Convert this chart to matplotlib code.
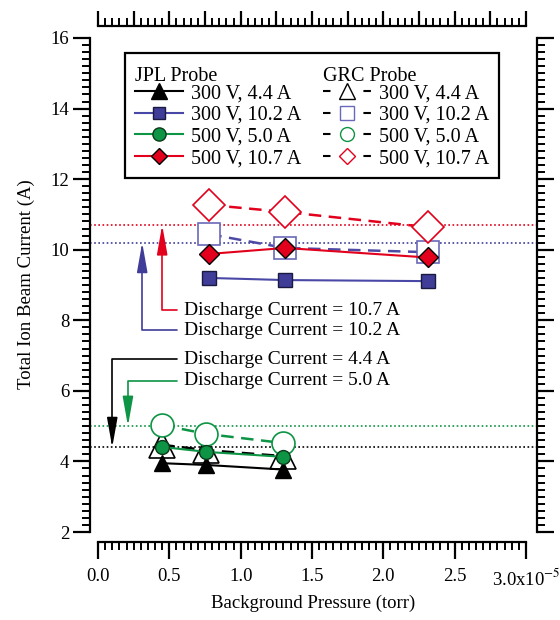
import numpy as np
import matplotlib
matplotlib.use("Agg")
import matplotlib.pyplot as plt
from matplotlib.lines import Line2D
from matplotlib.ticker import FixedLocator, FuncFormatter, NullFormatter

plt.rcParams["font.family"] = "Liberation Serif"
plt.rcParams["mathtext.fontset"] = "stix"

# Background pressure (torr)
p_low = [0.45e-5, 0.76e-5, 1.30e-5]
p_high = [0.78e-5, 1.31e-5, 2.31e-5]

# JPL probe, total ion beam current (A)
jpl_300_44 = [3.95, 3.90, 3.77]
jpl_300_102 = [9.20, 9.14, 9.11]
jpl_500_50 = [4.41, 4.27, 4.13]
jpl_500_107 = [9.88, 10.05, 9.78]

# GRC probe, total ion beam current (A)
grc_300_44 = [4.47, 4.32, 4.15]
grc_300_102 = [10.44, 10.05, 9.93]
grc_500_50 = [5.03, 4.78, 4.52]
grc_500_107 = [11.27, 11.07, 10.64]

case_labels = ["300 V, 4.4 A", "300 V, 10.2 A", "500 V, 5.0 A", "500 V, 10.7 A"]
discharge = [4.4, 10.2, 5.0, 10.7]

BLACK = "black"
BLUE = "#3f3d98"
GREEN = "#0d9444"
RED = "#e2001c"

fig = plt.figure(figsize=(5.6, 6.2), dpi=100)
ax = fig.add_axes([90 / 560, 1 - 542 / 620, 447 / 560, 516 / 620])
ax.set_xlim(-0.056e-5, 3.077e-5)
ax.set_ylim(1.717, 16.34)

# dotted reference lines at the discharge currents
for level, c in zip(discharge, [BLACK, BLUE, GREEN, RED]):
    ax.axhline(level, color=c, lw=1.2, ls=(0, (1, 1.5)), zorder=1)

dash = (0, (5, 3))
# GRC probe (open markers, dashed)
ax.plot(p_low, grc_300_44, color=BLACK, ls=dash, lw=1.8, marker="^", ms=19,
        mfc="white", mec=BLACK, mew=1.2, zorder=3)
ax.plot(p_high, grc_300_102, color="#4d4aa6", ls=dash, lw=1.8, marker="s", ms=16.5,
        mfc="white", mec="#6a68b8", mew=1.2, zorder=3)
ax.plot(p_low, grc_500_50, color=GREEN, ls=dash, lw=1.8, marker="o", ms=16.5,
        mfc="white", mec=GREEN, mew=1.2, zorder=3)
ax.plot(p_high, grc_500_107, color=RED, ls=dash, lw=1.8, marker="D", ms=16,
        mfc="white", mec=RED, mew=1.2, zorder=3)

# JPL probe (filled markers, solid)
ax.plot(p_low, jpl_300_44, color=BLACK, lw=1.5, marker="^", ms=12,
        mfc=BLACK, mec=BLACK, zorder=4)
ax.plot(p_high, jpl_300_102, color="#4a48a6", lw=1.5, marker="s", ms=10,
        mfc=BLUE, mec="#1a1a40", mew=1.0, zorder=4)
ax.plot(p_low, jpl_500_50, color=GREEN, lw=1.5, marker="o", ms=10,
        mfc=GREEN, mec="#0b3a1a", mew=1.0, zorder=4)
ax.plot(p_high, jpl_500_107, color=RED, lw=1.5, marker="D", ms=10,
        mfc=RED, mec="black", mew=1.0, zorder=4)

# arrows pointing to the discharge-current lines
arrow_x = [0.10e-5, 0.31e-5, 0.21e-5, 0.45e-5]
text_y = [6.90, 7.72, 6.28, 8.29]
for level, c, xa, yt in zip(discharge, [BLACK, BLUE, GREEN, RED], arrow_x, text_y):
    ax.annotate("Discharge Current = %.1f A" % level, xy=(xa, level),
                xytext=(0.60e-5, yt), ha="left", va="center", fontsize=14,
                arrowprops=dict(arrowstyle="-|>,head_length=1.8,head_width=0.32",
                                connectionstyle="angle,angleA=0,angleB=90,rad=0",
                                color=c, lw=1.2, shrinkA=3, shrinkB=0,
                                mutation_scale=10))

# Igor-style detached axes
for side in ["left", "right", "bottom", "top"]:
    ax.spines[side].set_linewidth(1.6)
ax.spines["top"].set_visible(False)
ax.spines["left"].set_bounds(2, 16)
ax.spines["right"].set_bounds(2, 16)
ax.spines["bottom"].set_bounds(0, 3e-5)

ax.yaxis.set_major_locator(FixedLocator(np.arange(2, 17, 2)))
ax.yaxis.set_minor_locator(FixedLocator(np.linspace(2, 16, 71)))
ax.xaxis.set_major_locator(FixedLocator(np.linspace(0, 3e-5, 7)))
ax.xaxis.set_minor_locator(FixedLocator(np.linspace(0, 3e-5, 61)))
ax.xaxis.set_major_formatter(FuncFormatter(
    lambda v, pos: "3.0x10$^{-5}$" if abs(v - 3e-5) < 1e-9 else "%.1f" % (v * 1e5)))
ax.tick_params(which="both", direction="out", right=True, labelright=False,
               labelsize=13.5)
ax.tick_params(which="major", length=12, width=1.6)
ax.tick_params(which="minor", length=5.5, width=1.4)
ax.tick_params(axis="x", pad=7)
ax.tick_params(axis="y", pad=3)

top = ax.twiny()
top.set_xlim(ax.get_xlim())
for side in ["left", "right", "bottom"]:
    top.spines[side].set_visible(False)
top.spines["top"].set_linewidth(1.6)
top.spines["top"].set_bounds(0, 3e-5)
top.xaxis.set_major_locator(FixedLocator(np.linspace(0, 3e-5, 13)))
top.xaxis.set_minor_locator(FixedLocator(np.linspace(0, 3e-5, 61)))
top.xaxis.set_major_formatter(NullFormatter())
top.tick_params(which="both", direction="out", top=True, labeltop=False)
top.tick_params(which="major", length=11, width=1.6)
top.tick_params(which="minor", length=5.5, width=1.4)

ax.set_xlabel("Background Pressure (torr)", fontsize=13.5, labelpad=4)
ax.set_ylabel("Total Ion Beam Current (A)", fontsize=13.5, labelpad=11)

# legend
LEG_FS = 14.5
HLEN = 2.4
HPAD = 0.36
blank = Line2D([], [], ls="none")
jpl_handles = [
    Line2D([], [], color=BLACK, lw=1.5, marker="^", ms=11, mfc=BLACK, mec=BLACK),
    Line2D([], [], color="#4a48a6", lw=1.5, marker="s", ms=9, mfc=BLUE, mec="#1a1a40"),
    Line2D([], [], color=GREEN, lw=1.5, marker="o", ms=9.5, mfc=GREEN, mec="#0b3a1a"),
    Line2D([], [], color=RED, lw=1.5, marker="D", ms=8, mfc=RED, mec="black"),
]
grc_dash = (0, (3.6, 15.8))
grc_handles = [
    Line2D([], [], color=BLACK, lw=1.5, ls=grc_dash, marker="^", ms=11, mfc="white", mec=BLACK),
    Line2D([], [], color=BLACK, lw=1.5, ls=grc_dash, marker="s", ms=10, mfc="white", mec="#6a68b8"),
    Line2D([], [], color=BLACK, lw=1.5, ls=grc_dash, marker="o", ms=10, mfc="white", mec=GREEN),
    Line2D([], [], color=BLACK, lw=1.5, ls=grc_dash, marker="D", ms=8.5, mfc="white", mec=RED),
]
leg = ax.legend([blank] + jpl_handles + [blank] + grc_handles,
                [""] + case_labels + [""] + case_labels,
                ncol=2, loc="upper left", bbox_to_anchor=(0.078, 0.948),
                fontsize=LEG_FS, frameon=True, fancybox=False, framealpha=1,
                edgecolor="black", handlelength=HLEN, handletextpad=HPAD,
                columnspacing=1.1, labelspacing=0.12, borderpad=0.5,
                borderaxespad=0)
leg.get_frame().set_linewidth(1.6)
leg.set_zorder(6)

fig.canvas.draw()
fs_px = LEG_FS * fig.dpi / 72
for i, title in [(0, "JPL Probe"), (5, "GRC Probe")]:
    tx = leg.texts[i + 1].get_window_extent().x0 - (HLEN + HPAD) * fs_px
    ty = leg.texts[i].get_window_extent()
    fig.text(tx / fig.bbox.width, (ty.y0 + ty.y1) / 2 / fig.bbox.height, title,
             ha="left", va="center", fontsize=LEG_FS, zorder=7)

fig.savefig("out.png", dpi=100)
